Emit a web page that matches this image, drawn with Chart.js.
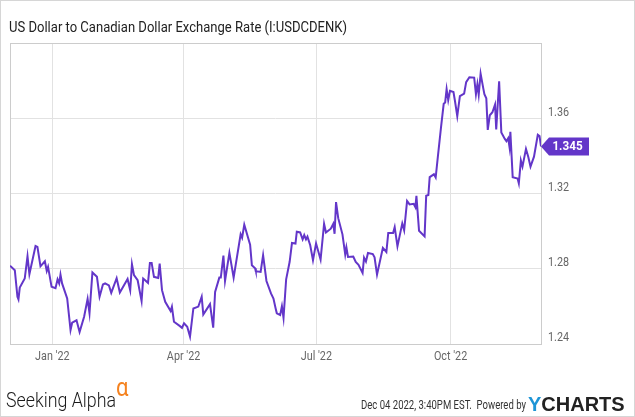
<!DOCTYPE html>
<html>
<head>
<meta charset="utf-8">
<title>US Dollar to Canadian Dollar Exchange Rate</title>
<script src="https://cdn.jsdelivr.net/npm/chart.js@4.4.0/dist/chart.umd.min.js"></script>
<style>
  html, body { margin: 0; padding: 0; background: #fff; }
  canvas { display: block; }
</style>
</head>
<body>
<canvas id="grafik" width="635" height="417"></canvas>
<script>
// judul dan teks footer
var chartTitle = 'US Dollar to Canadian Dollar Exchange Rate (I:USDCDENK)';
var footerDate = 'Dec 04 2022, 3:40PM EST.  Powered by';

// sumbu x: hari sejak 1 Jan 2022
var xMin = -29;
var xMax = 335;
var xTickDays = [0, 90, 181, 273];
var xTickLabels = ["Jan '22", "Apr '22", "Jul '22", "Oct '22"];

// sumbu y
var yTicks = [1.24, 1.28, 1.32, 1.36, 1.40];
var yTickLabels = ['1.24', '1.28', '1.32', '1.36', ''];

// data kurs
var days = [
  -29, -25.7, -23.9, -23.2, -22.3, -18.9, -17.0, -15.7, -11.5, -10.2,
  -8.1, -5.1, -3.8, -2.9, -0.5, 2.2, 3.6, 4.7, 5.6, 6.7,
  10.2, 12.5, 13.6, 16.6, 18.7, 21.8, 24.2, 25.5, 27.5, 30.6,
  32.4, 34.7, 36.2, 38.8, 40.4, 44.1, 46.3, 51.6, 53.4, 54.6,
  56.0, 58.5, 61.2, 62.3, 65.6, 66.9, 68.1, 69.7, 72.6, 73.6,
  75.2, 77.4, 81.1, 82.0, 83.4, 87.5, 88.9, 90.3, 92.5, 94.4,
  96.7, 100.1, 102.4, 103.5, 108.1, 110.3, 111.6, 114.5, 115.5, 117.3,
  118.4, 121.4, 124.3, 129.1, 130.1, 131.6, 135.6, 136.8, 139.0, 139.5,
  142.8, 144.5, 146.8, 149.9, 151.6, 153.1, 153.9, 156.2, 157.4, 158.5,
  160.3, 162.7, 164.3, 166.7, 167.6, 169.9, 171.6, 172.7, 173.9, 174.9,
  176.8, 178.7, 180.8, 183.9, 186.3, 187.6, 190.9, 192.6, 193.5, 194.5,
  196.0, 198.9, 200.8, 201.6, 202.7, 206.3, 208.0, 209.9, 212.7, 213.7,
  215.0, 216.4, 219.7, 220.9, 222.6, 226.6, 229.0, 230.3, 233.6, 234.7,
  236.6, 239.9, 241.2, 243.2, 244.9, 247.7, 248.9, 249.6, 251.4, 255.2,
  256.3, 257.8, 258.7, 261.6, 262.8, 264.3, 266.4, 268.3, 269.3, 270.3,
  271.4, 272.6, 275.0, 276.0, 277.6, 279.4, 282.3, 283.7, 285.9, 289.2,
  290.4, 291.4, 292.3, 293.6, 295.5, 296.2, 297.5, 298.5, 299.9, 301.7,
  303.5, 304.3, 306.3, 307.8, 310.2, 311.3, 312.5, 313.4, 314.0, 315.6,
  319.0, 319.8, 321.2, 322.3, 324.7, 326.3, 327.8, 330.2, 332.8, 334.0,
  335.0
];
var rates = [
  1.2816, 1.2792, 1.2651, 1.2637, 1.2700, 1.2748, 1.2866, 1.2771, 1.2921, 1.2916,
  1.2813, 1.2840, 1.2788, 1.2810, 1.2704, 1.2697, 1.2744, 1.2722, 1.2769, 1.2722,
  1.2642, 1.2474, 1.2513, 1.2526, 1.2464, 1.2545, 1.2640, 1.2564, 1.2780, 1.2757,
  1.2651, 1.2716, 1.2722, 1.2711, 1.2672, 1.2750, 1.2674, 1.2746, 1.2686, 1.2824,
  1.2766, 1.2739, 1.2629, 1.2748, 1.2725, 1.2831, 1.2831, 1.2757, 1.2751, 1.2828,
  1.2686, 1.2624, 1.2575, 1.2598, 1.2518, 1.2495, 1.2486, 1.2510, 1.2492, 1.2439,
  1.2589, 1.2599, 1.2651, 1.2557, 1.2612, 1.2487, 1.2677, 1.2753, 1.2753, 1.2870,
  1.2735, 1.2884, 1.2753, 1.2983, 1.2965, 1.3034, 1.2928, 1.2819, 1.2803, 1.2787,
  1.2783, 1.2872, 1.2735, 1.2669, 1.2642, 1.2589, 1.2563, 1.2554, 1.2601, 1.2539,
  1.2744, 1.2837, 1.2937, 1.2934, 1.2997, 1.2993, 1.2956, 1.2979, 1.2956, 1.2971,
  1.2925, 1.2845, 1.2935, 1.2849, 1.3039, 1.2993, 1.3013, 1.3039, 1.2986, 1.3154,
  1.3069, 1.2983, 1.2876, 1.2914, 1.2863, 1.2865, 1.2836, 1.2821, 1.2778, 1.2859,
  1.2838, 1.2884, 1.2878, 1.2861, 1.2769, 1.2911, 1.2889, 1.2990, 1.2990, 1.3021,
  1.2919, 1.3041, 1.3004, 1.3160, 1.3142, 1.3145, 1.3127, 1.3187, 1.3002, 1.2972,
  1.3188, 1.3192, 1.3287, 1.3302, 1.3285, 1.3396, 1.3547, 1.3677, 1.3684, 1.3755,
  1.3696, 1.3746, 1.3739, 1.3693, 1.3611, 1.3718, 1.3731, 1.3792, 1.3818, 1.3816,
  1.3728, 1.3781, 1.3725, 1.3837, 1.3756, 1.3728, 1.3706, 1.3538, 1.3616, 1.3632,
  1.3673, 1.3541, 1.3797, 1.3525, 1.3490, 1.3478, 1.3494, 1.3447, 1.3528, 1.3286,
  1.3279, 1.3254, 1.3375, 1.3343, 1.3437, 1.3394, 1.3343, 1.3396, 1.3512, 1.3505,
  1.3450
];

var FONT = "Roboto, 'Noto Sans', sans-serif";
var lineColor = '#6336c9';
var NARROW_X = 0.83; // teks dibuat agak sempit seperti font condensed

var points = days.map(function(d, i) {
  return { x: d, y: rates[i] };
});

// tulis teks dengan skala horizontal (sx)
function drawText(c, text, x, y, align, sx) {
  c.save();
  c.translate(x, y);
  c.scale(sx, 1);
  c.textAlign = align;
  c.fillText(text, 0, 0);
  c.restore();
}

// tulis teks supaya lebarnya pas dengan lebar target
function fitText(c, text, x, y, width) {
  var w = c.measureText(text).width;
  drawText(c, text, x, y, 'left', width / w);
}

// plugin untuk bingkai, judul, label sumbu, label nilai terakhir dan footer
var decorations = {
  id: 'decorations',
  beforeDraw: function(chart) {
    var c = chart.ctx;
    c.save();
    c.fillStyle = '#fff';
    c.fillRect(0, 0, chart.width, chart.height);
    c.strokeStyle = '#d6d6d6';
    c.lineWidth = 1;
    c.strokeRect(0.5, 0.5, chart.width - 1, chart.height - 1);
    c.fillStyle = '#222';
    c.font = '15px ' + FONT;
    c.textBaseline = 'alphabetic';
    fitText(c, chartTitle, 9, 32, 338);
    c.restore();
  },
  beforeDatasetsDraw: function(chart) {
    var a = chart.chartArea;
    var c = chart.ctx;
    c.save();
    c.strokeStyle = '#cccccc';
    c.lineWidth = 1;
    c.strokeRect(Math.round(a.left) + 0.5, Math.round(a.top) + 0.5,
      Math.round(a.right - a.left), Math.round(a.bottom - a.top));
    c.restore();
  },
  afterDatasetsDraw: function(chart) {
    var a = chart.chartArea;
    var c = chart.ctx;
    var last = rates[rates.length - 1];
    var y = chart.scales.y.getPixelForValue(last);
    var x = a.right;
    c.save();
    c.fillStyle = lineColor;
    c.beginPath();
    c.moveTo(x, y);
    c.lineTo(x + 8, y - 9);
    c.lineTo(x + 48, y - 9);
    c.lineTo(x + 48, y + 9);
    c.lineTo(x + 8, y + 9);
    c.closePath();
    c.fill();
    c.fillStyle = '#fff';
    c.font = 'bold 13px ' + FONT;
    c.textBaseline = 'middle';
    drawText(c, last.toFixed(3), x + 26.5, y + 0.5, 'center', 0.9);
    c.restore();
  },
  afterDraw: function(chart) {
    var c = chart.ctx;
    var sx = chart.scales.x;
    var sy = chart.scales.y;
    c.save();

    // label sumbu x dan y
    c.fillStyle = '#666';
    c.font = '13px ' + FONT;
    c.textBaseline = 'middle';
    xTickDays.forEach(function(d, i) {
      drawText(c, xTickLabels[i], sx.getPixelForValue(d), 357, 'center', NARROW_X);
    });
    yTicks.forEach(function(v, i) {
      drawText(c, yTickLabels[i], chart.chartArea.right + 7, sy.getPixelForValue(v) - 6, 'left', NARROW_X);
    });

    // logo Seeking Alpha
    c.textBaseline = 'alphabetic';
    c.fillStyle = '#1a1a1a';
    c.font = '300 21px ' + FONT;
    fitText(c, 'Seeking Alpha', 6, 407, 110);
    c.fillStyle = '#f5821f';
    c.font = '26px ' + FONT;
    drawText(c, '\u03b1', 116, 396, 'left', 0.85);

    // tanggal dan YCHARTS
    c.fillStyle = '#333';
    c.font = '12px ' + FONT;
    fitText(c, footerDate, 361, 409, 165);
    c.font = "bold 20px 'Liberation Sans', Arial, sans-serif";
    c.fillStyle = '#1e95d6';
    c.fillText('Y', 528, 411);
    var wy = c.measureText('Y').width;
    c.fillStyle = '#222';
    c.fillText('CHARTS', 528 + wy, 411);
    c.restore();
  }
};

var ctx = document.getElementById('grafik').getContext('2d');
var myChart = new Chart(ctx, {
  type: 'line',
  data: {
    datasets: [{
      label: 'USD/CAD',
      data: points,
      borderColor: lineColor,
      borderWidth: 2,
      pointRadius: 0,
      tension: 0,
      fill: false
    }]
  },
  options: {
    responsive: false,
    animation: false,
    layout: {
      padding: { left: 10, top: 43, right: 0, bottom: 0 }
    },
    plugins: {
      legend: { display: false },
      tooltip: { enabled: false }
    },
    scales: {
      x: {
        type: 'linear',
        min: xMin,
        max: xMax,
        afterBuildTicks: function(scale) {
          scale.ticks = xTickDays.map(function(v) { return { value: v }; });
        },
        afterFit: function(scale) { scale.height = 73; },
        ticks: { display: false },
        grid: { color: '#e2e2e2', drawTicks: false },
        border: { display: false }
      },
      y: {
        position: 'right',
        min: yTicks[0],
        max: yTicks[yTicks.length - 1],
        afterBuildTicks: function(scale) {
          scale.ticks = yTicks.map(function(v) { return { value: v }; });
        },
        afterFit: function(scale) { scale.width = 94; },
        ticks: { display: false },
        grid: { color: '#e2e2e2', drawTicks: false },
        border: { display: false }
      }
    }
  },
  plugins: [decorations]
});
</script>
</body>
</html>
